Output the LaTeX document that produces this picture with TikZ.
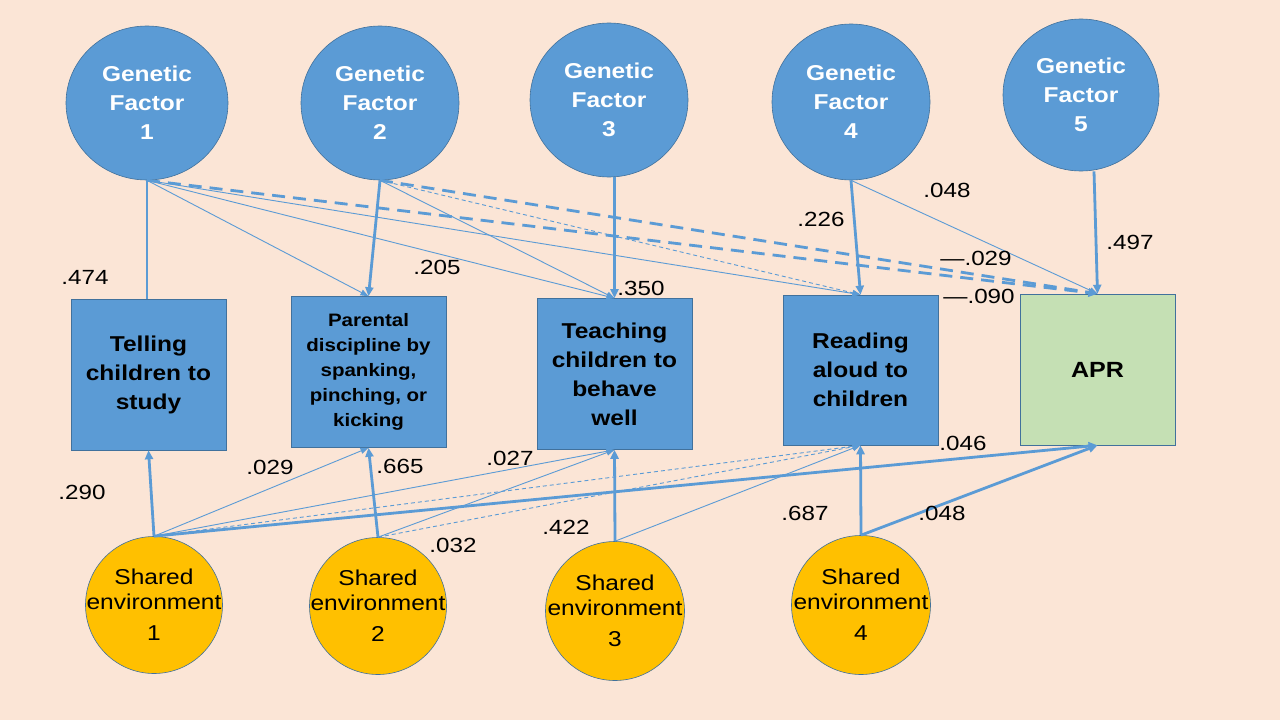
\documentclass[tikz,border=0pt]{standalone}
\usepackage{fontspec}
\setmainfont{Liberation Sans}
\newfontfamily\wfont[FakeStretch=1.14]{Liberation Sans}
\newfontfamily\lfont[FakeStretch=1.18]{Liberation Sans}
\usetikzlibrary{shapes.geometric,arrows.meta}
\definecolor{bg}{HTML}{FBE5D6}
\definecolor{blu}{HTML}{5B9BD5}
\definecolor{bdr}{HTML}{41719C}
\definecolor{grn}{HTML}{C5E0B4}
\definecolor{yel}{HTML}{FFC000}
\begin{document}
\begin{tikzpicture}[x=1pt,y=-1pt,
 gen/.style={ellipse,fill=blu,draw=bdr,line width=0.6pt,inner sep=0pt,text=white,font=\wfont\fontsize{21.5}{29}\selectfont\bfseries,align=center},
 box/.style={rectangle,fill=blu,draw=bdr,line width=0.6pt,minimum width=155pt,minimum height=151pt,inner sep=0pt,align=center,font=\wfont\fontsize{21.5}{29}\selectfont\bfseries},
 env/.style={circle,fill=yel,draw=bdr,line width=0.6pt,minimum size=137pt,inner sep=0pt},
 envtext/.style={inner sep=0pt,align=center,font=\wfont\fontsize{21.5}{25}\selectfont},
 lab/.style={font=\lfont\fontsize{20.5}{24}\selectfont,inner sep=0pt},
 strong/.style={draw=blu,line width=2.8pt,-{Triangle[length=9pt,width=8pt]}},
 weak/.style={draw=blu,line width=0.9pt,-{Triangle[length=8pt,width=6pt]}},
 sdash/.style={strong,dash pattern=on 13pt off 8pt},
 wdash/.style={weak,dash pattern=on 4pt off 3pt},
]
\useasboundingbox[fill=bg] (0,0) rectangle (1280,720);
% genetic factors
\node[gen,minimum width=162pt,minimum height=154pt] (g1) at (147,103) {Genetic\\Factor\\1};
\node[gen,minimum width=158pt,minimum height=154pt] (g2) at (380,103) {Genetic\\Factor\\2};
\node[gen,minimum width=158pt,minimum height=154pt] (g3) at (609,100) {Genetic\\Factor\\3};
\node[gen,minimum width=158pt,minimum height=156pt] (g4) at (851,102) {Genetic\\Factor\\4};
\node[gen,minimum width=156pt,minimum height=152pt] (g5) at (1081,95) {Genetic\\Factor\\5};
% boxes
\node[box] (tell) at (148.5,374.5) {Telling\\children to\\study};
\node[box,font=\wfont\fontsize{18}{25}\selectfont\bfseries] (par) at (368.5,372) {Parental\\discipline by\\spanking,\\pinching, or\\kicking};
\node[box] (teach) at (614.5,374) {Teaching\\children to\\behave\\well};
\node[box,minimum height=150pt] (read) at (860.5,370) {Reading\\aloud to\\children};
\node[box,fill=grn,minimum height=151pt,font=\wfont\fontsize{22}{29}\selectfont\bfseries] (apr) at (1097.5,369.5) {APR};
% shared environments
\node[env] (s1) at (154,605) {};
\node[env] (s2) at (378,606) {};
\node[env,minimum size=139pt] (s3) at (615,611) {};
\node[env,minimum size=139pt] (s4) at (861,605) {};
\node[envtext] (s1t) at (s1.center) {Shared\\environment\\[6pt]1};
\node[envtext] (s2t) at (s2.center) {Shared\\environment\\[6pt]2};
\node[envtext] (s3t) at (s3.center) {Shared\\environment\\[6pt]3};
\node[envtext] (s4t) at (s4.center) {Shared\\environment\\[6pt]4};
% genetic paths
\draw[draw=blu,line width=2.8pt] (g1.south) -- (g1.south |- tell.north);
\draw[weak] (g1.south) -- (par.north);
\draw[weak] (g1.south) -- (teach.north);
\draw[weak] (g1.south) -- (read.north);
\draw[sdash] (g1.south) -- (apr.north);
\draw[strong] (g2.south) -- (par.north);
\draw[weak] (g2.south) -- (teach.north);
\draw[wdash] (g2.south) -- (read.north);
\draw[sdash] (g2.south) -- (apr.north);
\draw[strong] (g3.south -| teach.north) -- (teach.north);
\draw[strong] (g4.south) -- (read.north);
\draw[weak] (g4.south) -- (apr.north);
\draw[strong] ([xshift=13pt]g5.south) -- (apr.north);
% shared paths
\draw[strong] (s1.north) -- (tell.south);
\draw[weak] (s1.north) -- (par.south);
\draw[weak] (s1.north) -- (teach.south);
\draw[wdash] (s1.north) -- (read.south);
\draw[strong] (s1.north) -- (apr.south);
\draw[strong] (s2.north) -- (par.south);
\draw[weak] (s2.north) -- (teach.south);
\draw[wdash] (s2.north) -- (read.south);
\draw[strong] (s3.north) -- (teach.south);
\draw[weak] (s3.north) -- (read.south);
\draw[strong] (s4.north) -- (read.south);
\draw[strong] (s4.north) -- (apr.south);
% labels
\node[lab] (l1) at (85,277) {.474};
\node[lab] (l2) at (437,267) {.205};
\node[lab] (l3) at (641,288) {.350};
\node[lab] (l4) at (821,219) {.226};
\node[lab] (l5) at (947,190) {.048};
\node[lab] (l6) at (976,258) {\textemdash.029};
\node[lab] (l7) at (979,296) {\textemdash.090};
\node[lab] (l8) at (1130,242) {.497};
\node[lab] (l9) at (82,492) {.290};
\node[lab] (l10) at (270,467) {.029};
\node[lab] (l11) at (400,466) {.665};
\node[lab] (l12) at (510,458) {.027};
\node[lab] (l13) at (963,443) {.046};
\node[lab] (l14) at (453,545) {.032};
\node[lab] (l15) at (566,527) {.422};
\node[lab] (l16) at (805,513) {.687};
\node[lab] (l17) at (942,513) {.048};
\end{tikzpicture}
\end{document}
